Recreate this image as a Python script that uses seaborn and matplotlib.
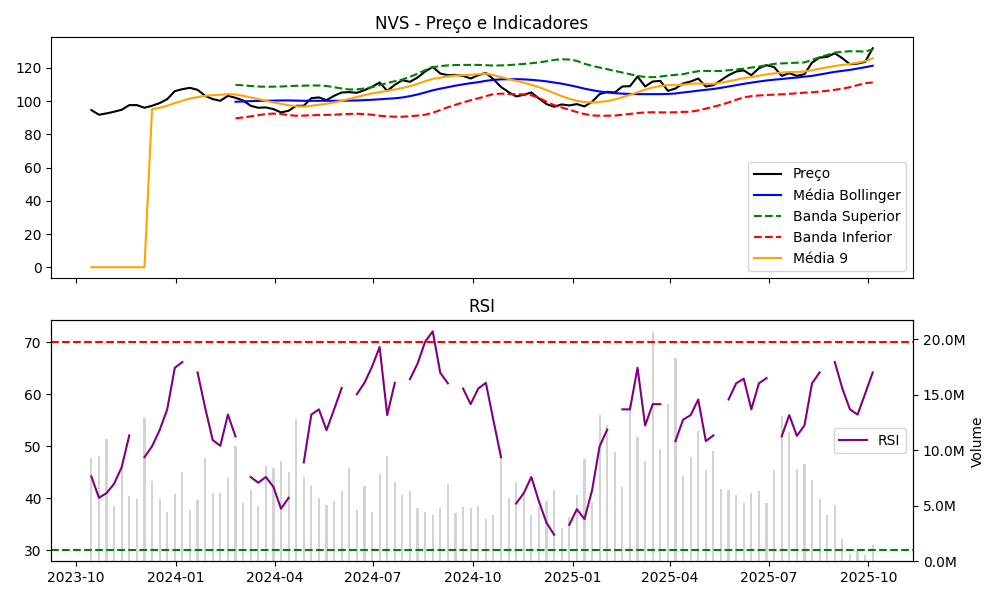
import pandas as pd
import matplotlib
matplotlib.use("Agg")
import matplotlib.pyplot as plt
import matplotlib.ticker as mticker
import seaborn as sns

# Weekly data (NVS)
dates = pd.date_range("2023-10-15", periods=104, freq="W-SUN")

price = [94.6, 91.8, 92.6, 93.6, 94.8, 97.6, 97.6, 96.0, 97.2, 98.8,
         101.2, 106.0, 107.2, 108.0, 106.8, 103.2, 101.2, 100.2, 103.2, 102.0,
         100.4, 97.2, 96.0, 96.2, 95.2, 93.2, 94.2, 97.2, 97.2, 101.8,
         102.2, 100.6, 103.2, 105.2, 105.4, 105.0, 106.6, 108.6, 111.2, 106.2,
         109.8, 112.6, 111.6, 114.2, 117.8, 120.6, 116.6, 115.6, 115.8, 115.2,
         113.6, 115.6, 117.0, 113.2, 108.5, 105.4, 102.8, 103.8, 105.2, 101.6,
         98.2, 96.6, 98.0, 97.4, 98.2, 96.8, 99.6, 104.2, 105.6, 105.2,
         108.8, 109.0, 114.8, 108.8, 111.8, 112.2, 106.2, 107.6, 110.6, 111.8,
         113.6, 108.8, 109.6, 112.6, 115.6, 117.8, 118.5, 115.6, 119.8, 121.6,
         120.5, 115.2, 116.8, 115.2, 116.2, 123.2, 126.2, 126.6, 128.8, 125.8,
         122.2, 122.6, 123.6, 131.8]

ma9 = [0.0] * 8 + [
    95.2, 96.0, 97.2, 98.8, 100.2, 101.6, 102.4, 103.2, 103.6, 103.8,
    104.2, 104.0, 103.2, 102.2, 101.2, 100.2, 99.2, 98.4, 97.5, 96.9,
    96.7, 97.2, 97.8, 98.4, 99.2, 100.2, 101.3, 102.5, 103.6, 104.7,
    105.4, 106.2, 107.0, 107.9, 109.0, 110.4, 112.0, 113.4, 114.1, 114.9,
    115.4, 115.6, 115.8, 116.2, 116.6, 115.7, 114.5, 113.3, 112.2, 111.1,
    109.8, 108.4, 106.6, 104.8, 103.0, 101.4, 100.2, 99.4, 99.2, 99.4,
    100.0, 101.0, 102.3, 103.8, 105.3, 106.9, 108.2, 109.1, 109.6, 109.6,
    109.9, 110.5, 110.6, 110.4, 110.4, 111.1, 111.9, 112.9, 113.8, 114.5,
    115.3, 116.1, 116.7, 117.2, 117.5, 117.6, 117.8, 118.6, 119.5, 120.3,
    121.1, 121.8, 122.4, 123.1, 124.0, 125.8]

bb_mid = [None] * 19 + [
    99.6,
    99.8, 100.0, 100.1, 100.2, 100.3, 100.4, 100.4, 100.3, 100.2, 100.2,
    100.2, 100.2, 100.2, 100.2, 100.3, 100.4, 100.6, 100.8, 101.1, 101.4,
    101.7, 102.2, 103.0, 104.0, 105.2, 106.5, 107.5, 108.4, 109.3, 110.1,
    110.8, 111.4, 112.2, 112.8, 113.1, 113.2, 113.2, 113.1, 112.8, 112.4,
    111.9, 111.2, 110.5, 109.6, 108.6, 107.5, 106.6, 105.8, 105.2, 104.8,
    104.5, 104.3, 104.2, 104.2, 104.2, 104.2, 104.3, 104.6, 105.2, 105.7,
    106.3, 106.8, 107.3, 108.0, 108.8, 109.6, 110.4, 111.1, 111.8, 112.4,
    112.9, 113.3, 113.8, 114.2, 114.7, 115.2, 116.0, 116.8, 117.6, 118.2,
    118.8, 119.6, 120.4, 121.3]

bb_upper = [None] * 19 + [
    109.8,
    109.5, 109.1, 108.8, 108.6, 108.7, 108.8, 109.0, 109.2, 109.3, 109.4,
    109.4, 109.1, 108.4, 107.6, 107.0, 107.1, 107.6, 108.4, 109.6, 110.9,
    112.0, 113.0, 114.6, 116.5, 118.6, 120.4, 121.1, 121.5, 121.7, 121.8,
    121.8, 121.8, 121.6, 121.4, 121.5, 121.7, 122.0, 122.4, 122.8, 123.3,
    124.0, 124.8, 125.2, 125.0, 124.2, 122.5, 121.2, 120.2, 119.2, 118.2,
    117.2, 116.2, 115.2, 114.5, 114.4, 114.8, 115.4, 115.8, 116.2, 117.2,
    118.0, 118.2, 118.1, 118.1, 118.6, 119.1, 119.5, 120.2, 120.8, 121.6,
    122.4, 122.7, 122.9, 123.1, 123.3, 124.8, 126.4, 127.8, 129.2, 129.7,
    130.0, 130.0, 129.8, 131.2]

bb_lower = [None] * 19 + [
    89.6,
    90.2, 90.8, 91.5, 92.2, 92.5, 92.2, 91.6, 91.2, 91.3, 91.5,
    91.6, 91.7, 91.8, 92.1, 92.3, 92.4, 92.2, 91.8, 91.2, 90.8,
    90.6, 90.6, 90.9, 91.3, 91.8, 93.0, 94.6, 96.3, 97.8, 99.2,
    100.5, 101.7, 103.0, 104.2, 104.5, 104.3, 104.2, 104.0, 103.5, 102.0,
    99.6, 97.6, 96.2, 94.8, 93.4, 92.2, 91.4, 91.2, 91.2, 91.3,
    91.8, 92.3, 92.8, 93.2, 93.3, 93.2, 93.2, 93.3, 93.5, 93.6,
    94.4, 95.5, 96.6, 97.8, 99.2, 100.8, 102.2, 103.0, 103.4, 103.7,
    103.9, 104.1, 104.4, 104.7, 105.1, 105.3, 105.7, 106.2, 106.8, 107.5,
    108.4, 109.6, 110.8, 111.2]

nan = float("nan")
rsi = [44.2, 40.1, 41.0, 42.8, 46.0, 52.1, nan, 47.9, 50.0, 53.1,
       57.1, 65.1, 66.2, nan, 64.2, 57.4, 51.2, 50.1, 56.1, 51.9,
       nan, 44.1, 43.0, 44.1, 42.2, 38.0, 40.1, nan, 46.9, 56.1,
       57.1, 53.1, 57.1, 61.2, nan, 60.0, 62.2, 65.3, 69.1, 56.0,
       62.2, nan, 62.9, 65.9, 70.1, 72.1, 64.1, 62.1, nan, 61.1,
       58.1, 61.1, 62.2, 55.0, 47.9, nan, 39.0, 41.0, 44.1, 39.4,
       35.3, 33.0, nan, 34.9, 37.9, 36.0, 41.5, 50.0, 53.2, nan,
       57.1, 57.1, 65.1, 54.0, 58.1, 58.1, nan, 51.0, 55.1, 56.0,
       59.0, 51.0, 52.1, nan, 59.0, 62.1, 63.0, 57.1, 62.1, 63.1,
       nan, 51.9, 56.0, 52.0, 54.0, 62.1, 64.2, nan, 66.2, 61.1,
       57.1, 56.1, 60.1, 64.2]

# volume in millions
volume_m = [9.3, 9.46, 11.0, 4.95, 8.5, 5.86, 5.59, 12.88, 7.2, 5.59,
            4.41, 6.04, 8.02, 4.59, 5.5, 9.28, 6.13, 6.13, 7.48, 10.36,
            5.23, 6.4, 4.95, 8.56, 8.38, 9.0, 8.0, 12.8, 7.57, 6.79,
            5.68, 5.05, 5.41, 6.31, 8.38, 4.59, 6.79, 4.41, 7.84, 9.46,
            7.12, 5.95, 6.31, 4.77, 4.41, 4.14, 4.77, 6.94, 4.32, 4.86,
            4.77, 4.95, 3.78, 4.14, 10.15, 5.68, 7.12, 6.16, 4.14, 4.9,
            5.41, 6.4, 2.97, 4.0, 5.95, 9.19, 5.3, 13.15, 12.25, 9.85,
            6.7, 14.14, 11.2, 9.0, 20.65, 10.15, 14.14, 18.3, 7.7, 9.4,
            11.7, 8.2, 9.9, 6.49, 6.4, 5.95, 5.25, 6.15, 6.31, 5.25,
            8.2, 13.06, 11.6, 8.29, 8.8, 7.3, 5.59, 4.14, 5.05, 2.05,
            0.7, 1.0, 0.6, 1.44]

df = pd.DataFrame({
    "Data": dates,
    "Preço": price,
    "Média 9": ma9,
    "Média Bollinger": pd.to_numeric(pd.Series(bb_mid), errors="coerce"),
    "Banda Superior": pd.to_numeric(pd.Series(bb_upper), errors="coerce"),
    "Banda Inferior": pd.to_numeric(pd.Series(bb_lower), errors="coerce"),
    "RSI": rsi,
    "Volume": [v * 1e6 for v in volume_m],
})

fig, (ax1, ax2) = plt.subplots(2, 1, figsize=(10, 6), dpi=100, sharex=True)

# Price and indicators
sns.lineplot(data=df, x="Data", y="Preço", ax=ax1, color="black", label="Preço")
sns.lineplot(data=df, x="Data", y="Média Bollinger", ax=ax1, color="blue", label="Média Bollinger")
sns.lineplot(data=df, x="Data", y="Banda Superior", ax=ax1, color="green", linestyle="--", label="Banda Superior")
sns.lineplot(data=df, x="Data", y="Banda Inferior", ax=ax1, color="red", linestyle="--", label="Banda Inferior")
sns.lineplot(data=df, x="Data", y="Média 9", ax=ax1, color="orange", label="Média 9")
ax1.set_title("NVS - Preço e Indicadores")
ax1.set_xlabel("")
ax1.set_ylabel("")
ax1.legend(loc="lower right")

# RSI with volume on a twin axis
vol_ax = ax2.twinx()
vol_ax.bar(df["Data"], df["Volume"], width=2, color="lightgray")
vol_ax.set_ylabel("Volume")
vol_ax.yaxis.set_major_formatter(mticker.FuncFormatter(lambda x, p: f"{x / 1e6:.1f}M"))

# gaps in RSI must stay gaps, so plot it directly
ax2.plot(df["Data"], df["RSI"], color="purple", label="RSI")
ax2.axhline(70, color="red", linestyle="--")
ax2.axhline(30, color="green", linestyle="--")
ax2.set_title("RSI")
ax2.set_xlabel("")
ax2.set_ylabel("")
ax2.legend(loc="center right")
ax2.set_zorder(vol_ax.get_zorder() + 1)
ax2.patch.set_visible(False)

plt.tight_layout()
plt.savefig("out.png")
